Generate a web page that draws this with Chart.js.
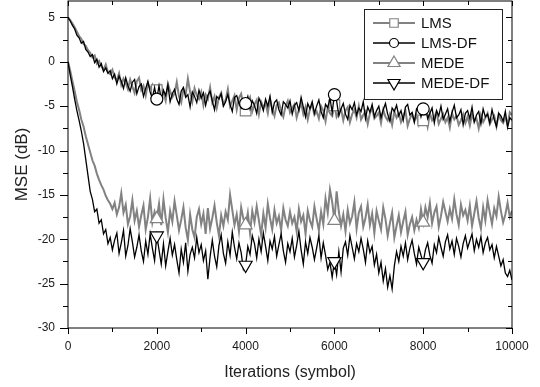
<!DOCTYPE html>
<html lang="en">
<head>
<meta charset="UTF-8">
<title>MSE vs Iterations</title>
<script src="https://cdn.jsdelivr.net/npm/chart.js"></script>
<style>
    body { margin: 0; background: #fff; }
    canvas { display: block; }
</style>
</head>
<body>
<canvas id="chart" width="540" height="387"></canvas>
<script>
// iterations, every 50 symbols
const iterations = Array.from({ length: 201 }, (_, i) => i * 50);

const lms = [
    5.0, 4.7, 4.3, 3.9, 3.4, 2.9, 2.6, 2.0, 1.8, 1.3, 1.0, 0.5, 0.7, -0.2, 0.1, -0.5, -0.9, -0.3, -1.2, -1.4,
    -0.9, -1.8, -2.1, -1.3, -2.6, -1.9, -2.4, -3.1, -2.0, -2.8, -3.5, -2.2, -1.8, -3.2, -2.7, -3.8, -2.4, -3.0, -2.6, -3.7,
    -3.2, -4.1, -2.8, -3.5, -4.4, -2.5, -3.3, -4.0, -3.6, -2.3, -3.9, -4.6, -3.1, -3.7, -1.9, -3.4, -4.5, -3.0, -3.8, -4.2,
    -3.4, -4.9, -3.7, -4.2, -2.9, -4.6, -3.9, -5.2, -4.0, -3.5, -4.8, -4.3, -3.1, -5.0, -4.4, -3.8, -5.4, -4.1, -3.6, -4.9,
    -5.5, -4.6, -4.0, -5.6, -4.8, -4.3, -5.9, -4.5, -5.1, -4.7, -5.8, -4.2, -5.3, -6.1, -4.9, -4.6, -5.5, -6.2, -5.0, -4.4,
    -5.7, -5.2, -4.8, -6.3, -5.4, -4.6, -5.9, -5.1, -6.5, -5.3, -4.9, -6.0, -5.6, -6.4, -5.0, -5.5, -6.7, -5.2, -5.8, -6.1,
    -4.9, -6.2, -5.7, -5.3, -6.6, -5.5, -5.1, -6.8, -5.9, -5.4, -6.3, -5.0, -6.5, -6.0, -5.6, -7.0, -5.8, -5.2, -6.4, -6.1,
    -5.7, -6.9, -5.4, -6.2, -6.6, -5.9, -7.1, -5.6, -6.3, -5.8, -6.8, -6.1, -5.5, -7.2, -6.4, -5.9, -6.7, -6.0, -7.0, -5.7,
    -6.6, -6.0, -7.3, -5.8, -6.6, -6.2, -5.7, -7.0, -6.4, -5.9, -6.8, -6.3, -7.4, -5.8, -6.5, -6.1, -7.1, -6.6, -5.9, -6.9,
    -6.2, -7.2, -5.9, -6.7, -6.4, -7.5, -6.0, -6.8, -6.3, -5.8, -7.0, -6.5, -6.1, -7.3, -5.9, -6.6, -6.9, -6.2, -7.1, -5.7,
    -6.0
];

const lmsDf = [
    5.0, 4.6, 4.1, 3.7, 3.0, 2.7, 2.1, 2.3, 1.4, 1.1, 0.6, 0.8, -0.1, 0.3, -0.6, -0.2, -1.1, -0.7, -1.3, -1.0,
    -1.9, -1.4, -2.5, -1.6, -2.2, -3.0, -1.8, -2.7, -3.3, -2.3, -2.0, -3.6, -2.8, -2.5, -3.9, -3.0, -2.2, -3.4, -4.1, -2.9,
    -4.2, -2.7, -4.3, -3.2, -3.8, -2.6, -4.5, -3.6, -3.1, -4.2, -4.8, -3.3, -2.9, -4.0, -3.7, -5.1, -3.4, -3.9, -4.6, -3.2,
    -4.1, -3.5, -4.9, -3.8, -3.3, -4.4, -5.4, -3.9, -4.2, -3.6, -5.0, -4.5, -3.7, -4.8, -5.6, -4.0, -3.8, -4.7, -5.2, -4.3,
    -4.7, -3.9, -5.3, -4.4, -4.9, -5.8, -4.1, -4.7, -5.5, -4.2, -5.0, -3.9, -5.7, -4.6, -4.3, -5.4, -6.0, -4.5, -4.8, -5.2,
    -4.4, -5.9, -4.9, -4.6, -5.5, -4.0, -5.1, -6.2, -4.7, -5.3, -4.5, -5.8, -5.0, -4.3, -5.6, -6.3, -4.8, -5.2, -4.1, -5.7,
    -3.7, -4.4, -6.1, -5.3, -4.7, -5.9, -6.5, -4.9, -5.4, -4.6, -6.0, -5.2, -5.6, -4.5, -6.4, -5.1, -5.7, -4.8, -6.2, -5.5,
    -5.0, -6.3, -5.4, -4.7, -5.9, -6.7, -5.2, -5.6, -4.9, -6.1, -5.5, -6.6, -5.1, -4.8, -6.0, -5.7, -6.8, -5.3, -5.0, -6.2,
    -5.3, -4.9, -6.4, -5.8, -5.2, -6.9, -5.5, -6.1, -5.0, -6.5, -5.9, -5.3, -6.7, -5.7, -4.9, -6.3, -6.0, -5.4, -7.1, -5.8,
    -5.5, -6.4, -5.1, -6.8, -6.0, -5.6, -7.0, -5.3, -6.2, -5.9, -6.9, -5.4, -6.5, -7.3, -5.8, -6.1, -6.7, -5.6, -7.4, -6.3,
    -6.6
];

const mede = [
    0.0, -1.0, -2.2, -3.3, -4.5, -5.4, -6.5, -7.3, -8.4, -9.3, -10.2, -11.1, -11.7, -12.6, -13.3, -13.9, -14.4, -15.1, -15.6, -16.0,
    -16.6, -15.9, -17.2, -16.4, -14.8, -17.0, -16.1, -18.3, -17.4, -15.6, -17.9, -16.8, -18.6, -17.3, -16.2, -18.9, -17.5, -15.4, -18.1, -16.9,
    -17.7, -16.0, -18.4, -15.5, -17.6, -19.2, -16.8, -18.0, -15.7, -17.3, -19.0, -17.8, -16.4, -18.7, -20.1, -17.2, -18.9, -19.8, -17.5, -16.6,
    -18.3, -17.1, -19.4, -16.5, -18.8, -17.6, -16.2, -18.1, -19.6, -17.3, -18.5, -16.9, -17.8, -15.0, -16.7, -18.4, -17.2, -19.1, -16.4, -17.7,
    -18.4, -17.0, -19.3, -16.8, -18.1, -16.3, -17.9, -19.5, -17.1, -18.7, -16.0, -17.6, -18.9, -16.7, -18.2, -17.4, -19.0, -16.5, -17.8, -18.5,
    -16.9, -18.2, -17.5, -19.1, -16.6, -18.0, -17.3, -19.4, -16.8, -17.9, -18.6, -16.3, -17.7, -19.0, -16.9, -18.3, -15.4, -17.0, -14.4, -15.8,
    -17.9, -14.6, -16.9, -18.5, -17.2, -19.1, -16.7, -18.2, -17.4, -15.8, -18.8, -17.0, -16.3, -18.6, -17.6, -16.1, -18.4, -17.1, -19.3, -16.8,
    -17.9, -18.9, -16.4, -17.7, -19.6, -18.2, -17.0, -19.8, -18.5, -17.3, -19.2, -18.0, -16.9, -19.5, -18.3, -17.5, -19.0, -17.8, -18.7, -16.6,
    -18.1, -16.4, -17.5, -15.9, -18.2, -17.0, -16.3, -18.6, -17.4, -15.8, -16.9, -18.0, -16.6, -17.7, -15.5, -17.2, -18.4, -16.1, -17.3, -16.7,
    -17.9, -16.2, -18.5, -17.1, -15.7, -17.6, -18.8, -16.4, -17.9, -15.6, -17.0, -18.3, -16.5, -17.4, -15.2, -16.8, -18.1, -17.2, -15.9, -17.5,
    -16.8
];

const medeDf = [
    0.0, -1.5, -2.8, -4.2, -5.5, -6.6, -7.8, -9.2, -11.0, -12.8, -14.6, -15.5, -16.9, -16.6, -18.2, -17.8, -19.4, -18.9, -20.5, -19.8,
    -21.2, -20.1, -19.3, -21.6, -20.4, -19.0, -21.9, -20.7, -18.8, -20.3, -22.0, -20.9, -19.5, -21.3, -22.5, -20.2, -21.7, -19.4, -21.0, -22.4,
    -19.6, -21.2, -22.8, -20.5, -23.0, -21.4, -19.9, -21.8, -20.6, -22.3, -23.8, -21.1, -22.6, -20.4, -23.6, -21.7, -20.9, -22.1, -19.8, -21.5,
    -20.6, -22.4, -21.3, -24.5, -22.0, -20.1, -21.9, -23.1, -20.7, -19.5, -21.6, -22.7, -20.3, -21.8, -19.2, -20.9, -22.2, -20.4, -21.5, -23.4,
    -22.9, -20.8, -21.7, -19.6, -20.5, -22.1, -20.0, -21.4, -19.3, -20.8, -22.4, -20.2, -21.1, -19.7, -21.9, -20.6, -19.4, -21.3, -22.6, -20.5,
    -21.4, -19.9, -22.0, -20.7, -19.1, -21.2, -22.8, -20.3, -21.6, -19.8, -20.9, -22.3, -21.0, -19.6, -22.1, -20.4, -21.8, -23.4, -22.6, -24.3,
    -22.5, -24.0, -21.4, -23.7, -21.0, -20.3, -21.8, -19.6, -20.9, -22.2, -20.5, -21.4, -19.9, -21.1, -22.6, -20.2, -21.5, -20.8, -22.9, -21.7,
    -23.8, -22.6, -24.7, -23.3, -25.4, -24.1, -25.6, -23.0, -21.4, -22.5, -20.8, -21.9, -20.4, -22.3, -21.0, -20.1, -21.6, -22.8, -20.9, -21.8,
    -22.6, -21.2, -20.4, -21.8, -22.7, -20.6, -21.5, -19.8, -20.9, -21.9, -20.3, -19.5, -21.1, -20.2, -21.7, -19.9, -20.8, -22.0, -20.5, -19.6,
    -21.0, -20.2, -19.4, -21.3, -20.0, -20.9, -19.7, -21.5, -20.4, -19.8, -21.2, -20.6, -22.1, -20.8, -21.9, -23.0, -22.3, -23.8, -24.2, -23.5,
    -24.6
];

// symbols are drawn every 2000 iterations
const markerIters = [2000, 4000, 6000, 8000];

const seriesNames = ['LMS', 'LMS-DF', 'MEDE', 'MEDE-DF'];
const xTickLabels = [0, 2000, 4000, 6000, 8000, 10000];
const yTickLabels = [-30, -25, -20, -15, -10, -5, 0, 5];

const GRAY = '#828282';
const BLACK = '#000000';

const styles = [
    { color: GRAY, width: 2, shape: 'rect', r: 7.5, rot: 0 },
    { color: BLACK, width: 1.3, shape: 'circle', r: 6, rot: 0 },
    { color: GRAY, width: 2, shape: 'triangle', r: 7.5, rot: 0 },
    { color: BLACK, width: 1.3, shape: 'triangle', r: 7.5, rot: 180 }
];

function withMinor(majors) {
    const out = [];
    majors.forEach((v, i) => {
        out.push({ value: v });
        if (i < majors.length - 1) out.push({ value: (v + majors[i + 1]) / 2 });
    });
    return out;
}

const allSeries = [lms, lmsDf, mede, medeDf];
const datasets = allSeries.map((vals, k) => {
    const s = styles[k];
    return {
        label: seriesNames[k],
        data: vals.map((v, i) => ({ x: iterations[i], y: v })),
        borderColor: s.color,
        borderWidth: s.width,
        backgroundColor: '#fff',
        pointStyle: s.shape,
        pointRotation: s.rot,
        pointBackgroundColor: '#fff',
        pointBorderColor: s.color,
        pointBorderWidth: 1.2,
        pointRadius: (c) => markerIters.includes(iterations[c.dataIndex]) ? s.r : 0,
        pointHoverRadius: 0,
        tension: 0,
        order: 4 - k
    };
});

// small marker painter for the legend
function drawMarker(ctx, shape, rot, x, y, r, color) {
    ctx.save();
    ctx.fillStyle = '#fff';
    ctx.strokeStyle = color;
    ctx.lineWidth = 1.2;
    ctx.beginPath();
    if (shape === 'circle') {
        ctx.arc(x, y, r, 0, Math.PI * 2);
    } else if (shape === 'rect') {
        const h = r * Math.SQRT1_2;
        ctx.rect(x - h, y - h, 2 * h, 2 * h);
    } else {
        let a = rot * Math.PI / 180;
        for (let i = 0; i < 3; i++) {
            const px = x + Math.sin(a) * r, py = y - Math.cos(a) * r;
            i ? ctx.lineTo(px, py) : ctx.moveTo(px, py);
            a += Math.PI * 2 / 3;
        }
        ctx.closePath();
    }
    ctx.fill();
    ctx.stroke();
    ctx.restore();
}

// frame + Origin style tick marks (outer on left/bottom, inner on top/right)
const framePlugin = {
    id: 'frame',
    afterDatasetsDraw(chart) {
        const { ctx, chartArea: a, scales } = chart;
        ctx.save();
        ctx.strokeStyle = '#000';
        ctx.lineWidth = 1;
        ctx.strokeRect(a.left, a.top, a.right - a.left, a.bottom - a.top);
        ctx.beginPath();
        scales.x.ticks.forEach(t => {
            const px = Math.round(scales.x.getPixelForValue(t.value)) + 0.5;
            const major = xTickLabels.includes(t.value);
            ctx.moveTo(px, a.bottom); ctx.lineTo(px, a.bottom + (major ? 6 : 4));
            ctx.moveTo(px, a.top); ctx.lineTo(px, a.top + (major ? 5 : 4));
        });
        scales.y.ticks.forEach(t => {
            const py = Math.round(scales.y.getPixelForValue(t.value)) + 0.5;
            const major = yTickLabels.includes(t.value);
            ctx.moveTo(a.left - (major ? 8 : 5), py); ctx.lineTo(a.left, py);
            ctx.moveTo(a.right - (major ? 6 : 4), py); ctx.lineTo(a.right, py);
        });
        ctx.stroke();
        ctx.restore();
    }
};

const legendPlugin = {
    id: 'boxLegend',
    afterDraw(chart) {
        const { ctx } = chart;
        const bx = 364, by = 9, bw = 138, bh = 90;
        ctx.save();
        ctx.fillStyle = '#fff';
        ctx.fillRect(bx, by, bw, bh);
        ctx.strokeStyle = '#222';
        ctx.lineWidth = 1;
        ctx.strokeRect(bx + 0.5, by + 0.5, bw, bh);
        ctx.font = '15px "Liberation Sans", Arial, sans-serif';
        ctx.textBaseline = 'middle';
        ctx.fillStyle = '#111';
        const legendR = [6, 4.5, 7, 7];
        seriesNames.forEach((name, k) => {
            const s = styles[k];
            const y = by + 14 + k * 20;
            ctx.strokeStyle = s.color;
            ctx.lineWidth = s.width;
            ctx.beginPath();
            ctx.moveTo(bx + 9, y); ctx.lineTo(bx + 51, y);
            ctx.stroke();
            drawMarker(ctx, s.shape, s.rot, bx + 30, y, legendR[k], s.color);
            ctx.fillStyle = '#111';
            ctx.fillText(name, bx + 57, y + 1);
        });
        ctx.restore();
    }
};

Chart.defaults.font.family = '"Liberation Sans", Arial, sans-serif';
Chart.defaults.color = '#1a1a1a';

new Chart(document.getElementById('chart'), {
    type: 'line',
    data: { datasets: datasets },
    options: {
        responsive: false,
        animation: false,
        devicePixelRatio: 1,
        layout: { padding: { left: 0, right: 28, top: 1, bottom: 0 } },
        plugins: {
            legend: { display: false },
            tooltip: { enabled: false }
        },
        scales: {
            x: {
                type: 'linear',
                min: 0,
                max: 10000,
                afterBuildTicks: (scale) => { scale.ticks = withMinor(xTickLabels); },
                afterFit: (scale) => {
                    scale.height = 59;
                    scale.paddingLeft = 0;
                    scale.paddingRight = 0;
                },
                grid: { drawOnChartArea: false, tickLength: 6, tickColor: 'rgba(0,0,0,0)' },
                border: { display: false },
                ticks: {
                    autoSkip: false,
                    maxRotation: 0,
                    padding: 5,
                    font: { size: 12 },
                    callback: (v) => xTickLabels.includes(v) ? String(v) : ''
                },
                title: {
                    display: true,
                    text: 'Iterations (symbol)',
                    font: { size: 16 },
                    color: '#222',
                    padding: { top: 0, bottom: 5 }
                }
            },
            y: {
                min: -30,
                max: 6.85,
                afterBuildTicks: (scale) => { scale.ticks = withMinor(yTickLabels); },
                afterFit: (scale) => {
                    scale.width = 68;
                    scale.paddingTop = 0;
                    scale.paddingBottom = 0;
                },
                grid: { drawOnChartArea: false, tickLength: 8, tickColor: 'rgba(0,0,0,0)' },
                border: { display: false },
                ticks: {
                    autoSkip: false,
                    padding: 5,
                    font: { size: 12 },
                    callback: (v) => yTickLabels.includes(v) ? String(v) : ''
                },
                title: {
                    display: true,
                    text: 'MSE (dB)',
                    font: { size: 17 },
                    color: '#222',
                    padding: { top: 12, bottom: 0 }
                }
            }
        }
    },
    plugins: [framePlugin, legendPlugin]
});
</script>
</body>
</html>
